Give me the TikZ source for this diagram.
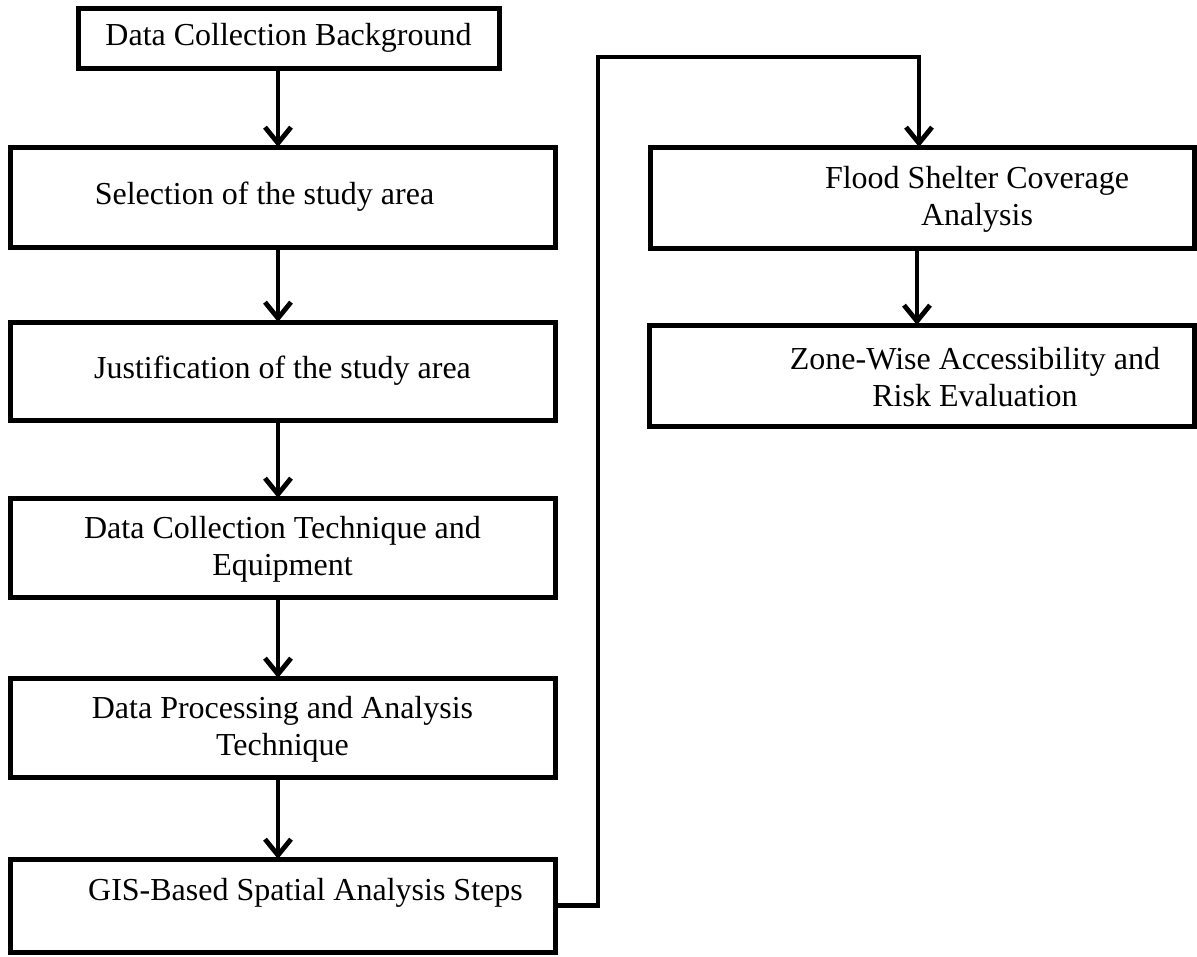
\documentclass[tikz,border=0pt]{standalone}
\usepackage{fontspec}
\setmainfont{Liberation Serif}
\usetikzlibrary{arrows.meta}
\begin{document}
\begin{tikzpicture}[x=1pt,y=-1pt,
  box/.style={draw, line width=5pt, inner sep=0pt, outer sep=0pt, minimum width=545pt},
  txt/.style={font=\fontsize{32}{37}\selectfont, align=center, inner sep=0pt},
  arr/.style={line width=4.8pt, -{Straight Barb[length=16pt,width=26pt]}},
  link/.style={line width=4.8pt, line join=miter}]
\useasboundingbox (0,0) rectangle (1197,956);
% left column boxes
\node[box, minimum width=421pt, minimum height=60pt] (b1) at (288.5,38) {};
\node[box, minimum height=100pt] (sel) at (282.5,197) {};
\node[box, minimum height=98pt] (just) at (282.5,371) {};
\node[box, minimum height=99pt] (dct) at (282.5,547.5) {};
\node[box, minimum height=99pt] (dp) at (282.5,727.5) {};
\node[box, minimum height=93pt] (gis) at (282.5,905.5) {};
% right column boxes
\node[box, minimum width=544pt, minimum height=101pt] (flood) at (922,197.5) {};
\node[box, minimum width=545pt, minimum height=101pt] (zone) at (921.5,375.5) {};
% texts
\node[txt] (b1t) at (288.5,38) {Data Collection Background};
\node[txt] (selt) at (264.5,197) {Selection of the study area};
\node[txt] (justt) at (282.5,371) {Justification of the study area};
\node[txt] (dctt) at (282.5,549) {Data Collection Technique and\\Equipment};
\node[txt] (dpt) at (282.5,729) {Data Processing and Analysis\\Technique};
\node[txt] (gist) at (305.5,893) {GIS-Based Spatial Analysis Steps};
\node[txt] (floodt) at (977,199) {Flood Shelter Coverage\\Analysis};
\node[txt] (zonet) at (975,377) {Zone-Wise Accessibility and\\Risk Evaluation};
% connectors
\coordinate (ax) at (278,0);
\coordinate (rx) at (917,0);
\coordinate (fx) at (919,0);
\coordinate (c1) at (598,57);
\draw[arr] (b1.south -| ax) -- (sel.north -| ax);
\draw[arr] (sel.south -| ax) -- (just.north -| ax);
\draw[arr] (just.south -| ax) -- (dct.north -| ax);
\draw[arr] (dct.south -| ax) -- (dp.north -| ax);
\draw[arr] (dp.south -| ax) -- (gis.north -| ax);
\draw[link, arr] (gis.east) -| (c1) -| (flood.north -| fx);
\draw[arr] (flood.south -| rx) -- (zone.north -| rx);
\end{tikzpicture}
\end{document}
